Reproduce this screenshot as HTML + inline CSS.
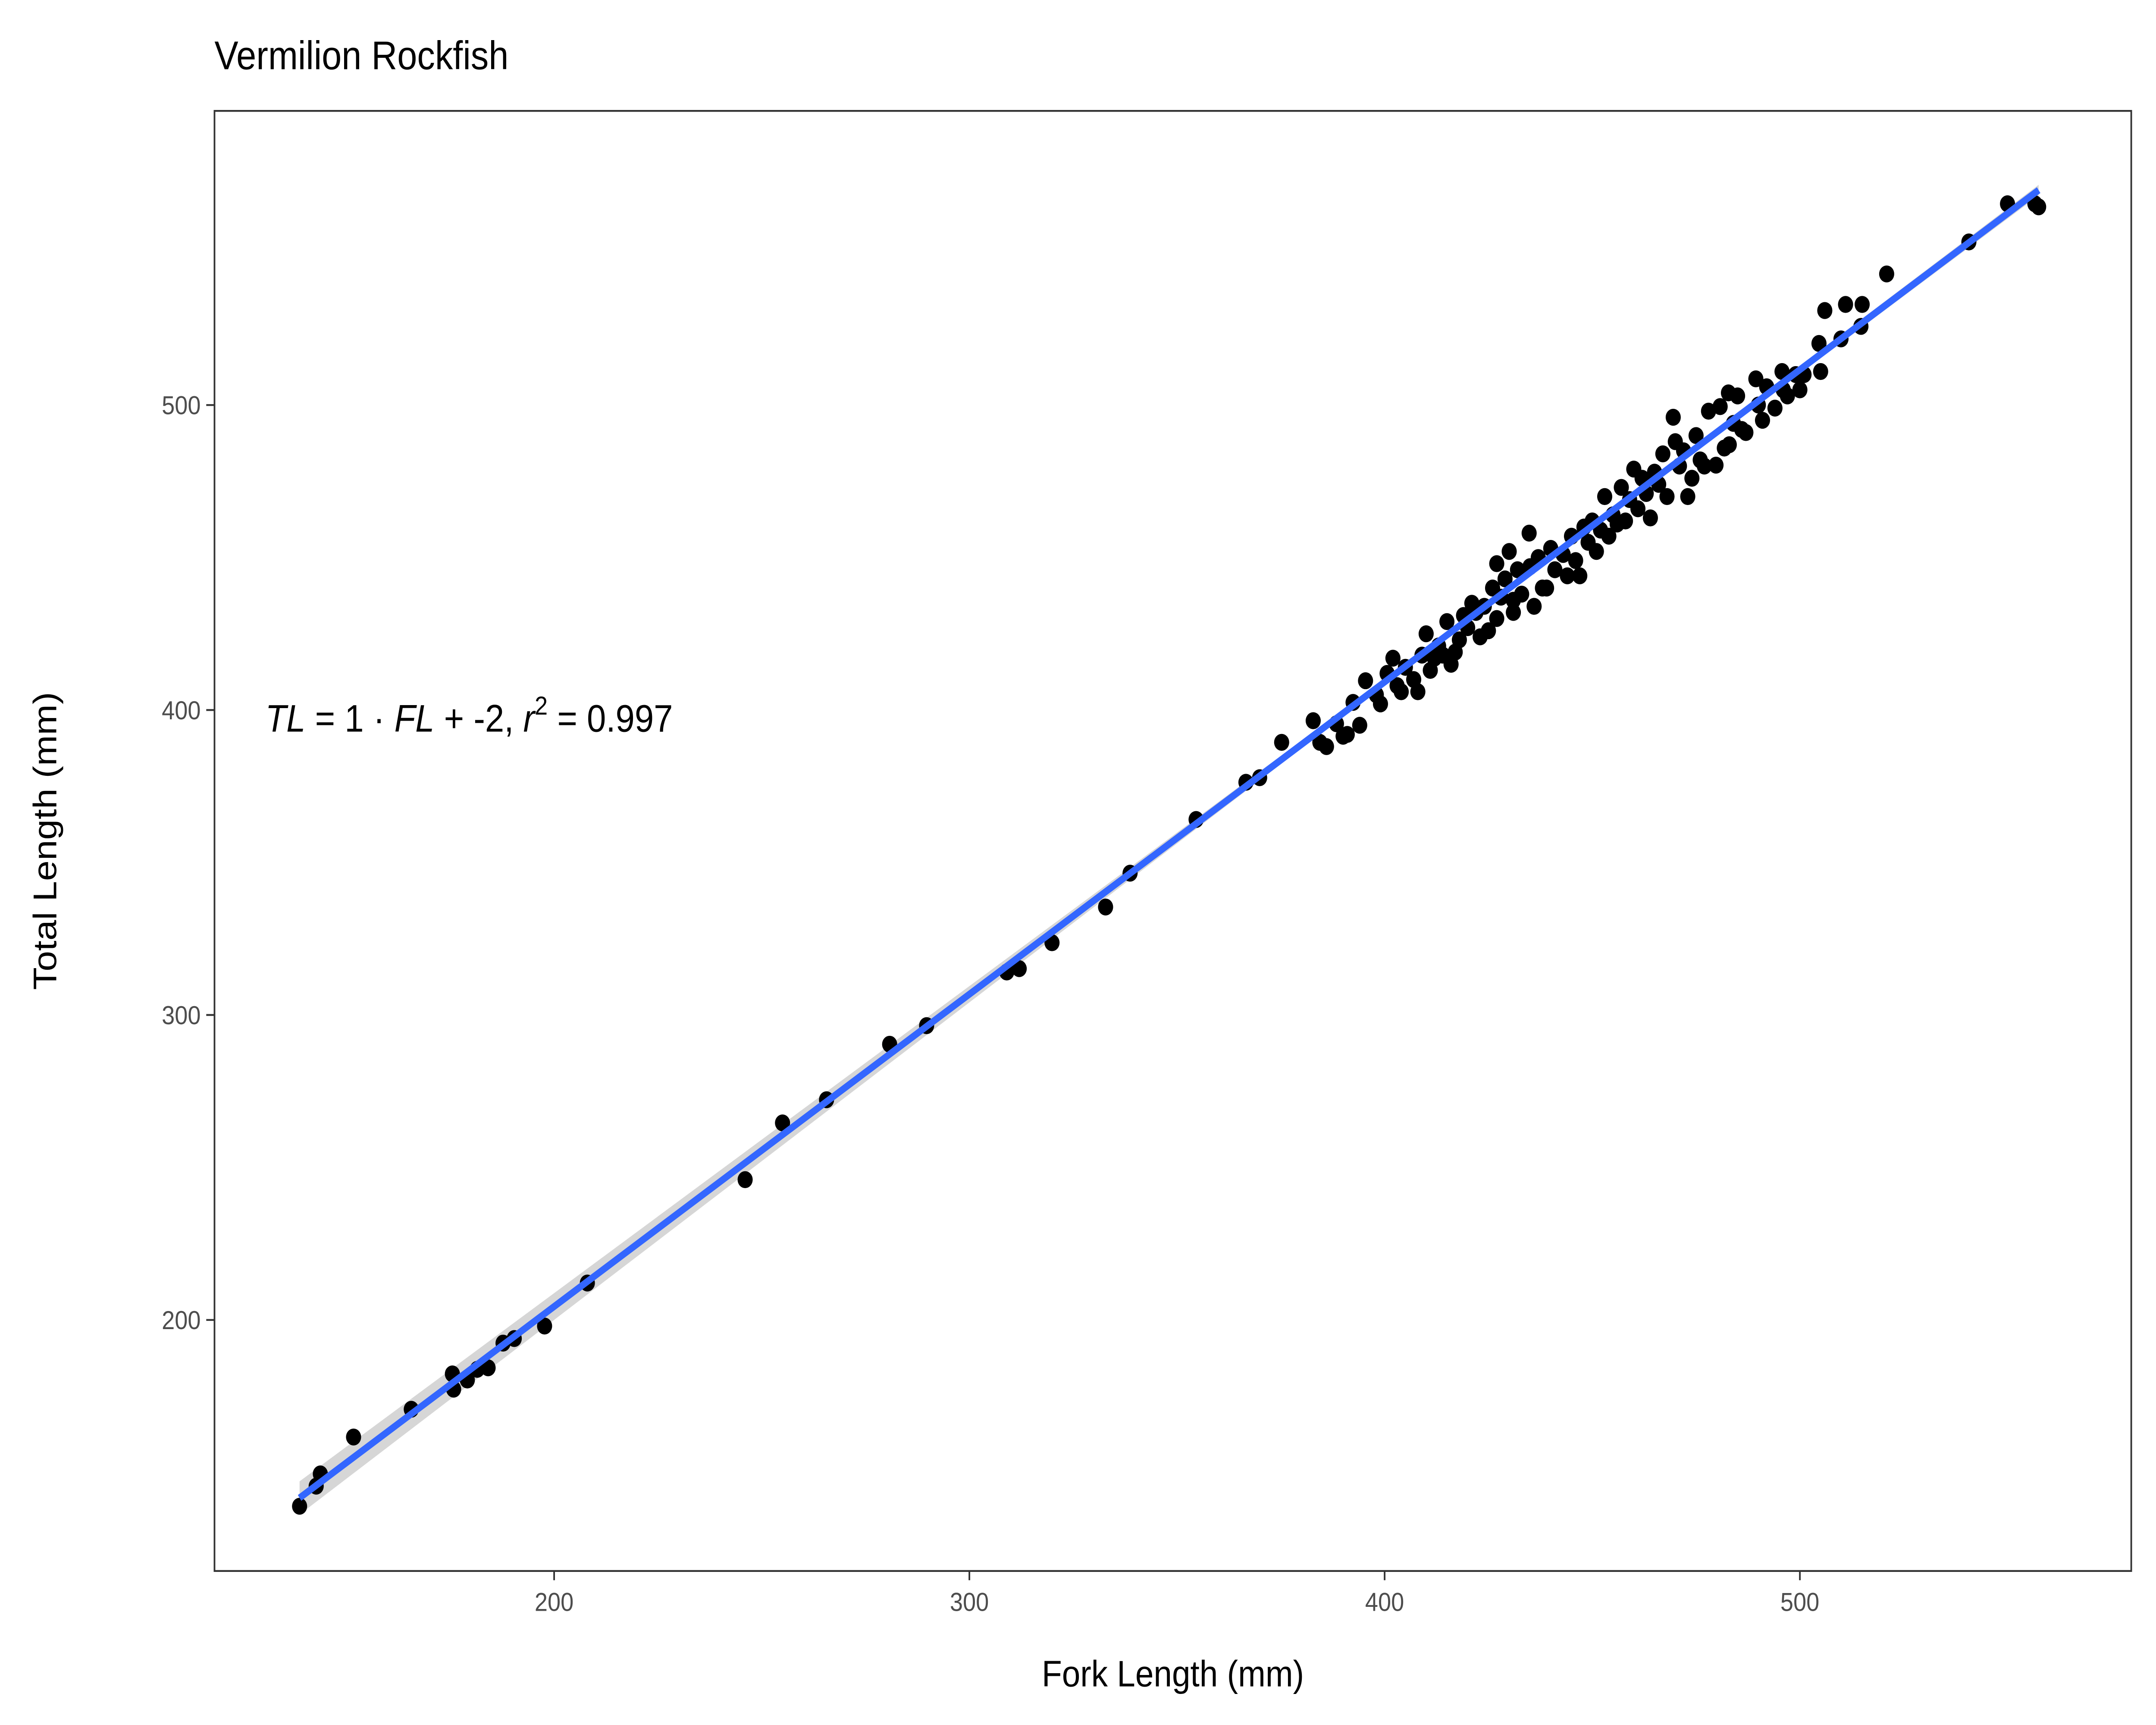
<!DOCTYPE html>
<html><head><meta charset="utf-8"><style>
html,body{margin:0;padding:0;background:#fff;width:100%;height:100%;overflow:hidden}
svg{display:block;width:100vw;height:100vh}
text{font-family:"Liberation Sans",Arial,sans-serif}
</style></head><body>
<svg id="chart" viewBox="0 0 1568 1120" preserveAspectRatio="none" xmlns="http://www.w3.org/2000/svg">
<rect x="0" y="0" width="1568" height="1120" fill="#fff"/>
<text x="156" y="45" font-size="26" fill="#000">Vermilion Rockfish</text>
<rect x="156" y="72" width="1394" height="948" fill="#fff" stroke="#333" stroke-width="1.2"/>
<g id="xticks"></g>
<g id="yticks"></g>
<g id="band"></g>
<g id="pts"></g>
<g id="fit"></g>
<text x="193" y="475" font-size="25" fill="#000"><tspan font-style="italic">TL</tspan> = 1 · <tspan font-style="italic">FL</tspan> + -2,  <tspan font-style="italic">r</tspan><tspan font-size="17" dy="-11">2</tspan><tspan dy="11"> = 0.997</tspan></text>
<text x="853" y="1095" font-size="24" text-anchor="middle" fill="#000">Fork Length (mm)</text>
<text transform="translate(41,546) rotate(-90)" font-size="24" text-anchor="middle" fill="#000">Total Length (mm)</text>
</svg>
<script>
const xTicks=[200,300,400,500];
const yTicks=[200,300,400,500];
const fl=[138.7,142.7,143.7,151.7,165.6,175.5,175.8,179.1,181.5,184.1,187.7,190.4,197.7,208,246,255,265.6,280.8,289.7,309,312,319.9,332.8,338.7,354.6,366.6,369.9,375.2,382.8,384.4,388.4,390,392.4,395.4,
398,400.6,402,404,405,407,409,410,412,413,415,416,418,419,420,421,422,424,425,426,427,428,429,430,431,432,433,434.8,435,437,438,440,441,443,444,445,446,448,449,450,452,453,454,455,457,458,459,460,461,462,463,465,466,467,468,469.5,470,471,472,474,475,476,478,479.8,480.8,481.8,482.8,484,485,487,489.4,490,492,494,495.7,497,499,501,504.6,505,506,509.9,511,514.7,515,520.9,540.7,550,556.6,557.5,
386,391,394,399,403,408,411,414,417,423,427,431,436,439,447,451,456,464,473,477,483,486,491,496,500];
const tl=[138.9,145.5,149.5,161.6,170.7,182.3,177.3,180.3,183.8,184.3,192.4,193.9,198,212.1,246,264.6,272.2,290.4,296.5,314.1,315.2,323.7,335.4,346.5,364.1,376.3,377.8,389.4,396.5,389.4,395.5,391.4,402.5,409.6,
405,412,417,406,414,410,418,425,417,421,429,415,423,431,427,435,432,434,426,440,448,437,443,452,436,446,438,458,447,450,440,453,446,451,444,457,449,460,455,462,459,470,457,464,473,462,469,479,466,476,471,478,474,484,470,496,488,480,485,476,490,482,498,480.3,499.5,485.9,504,494,503,491,508.6,500,506,499,511,503,510,510,520.2,511,531,521.7,533,525.8,533,543,553.5,566,566,565,
388,392,395,402,408,406,413,418,419,424,430,432,434,440,444,452,461,463,470,480,487,492,495,505,505];
const slope=1.024, intercept=-0.4;
const NS='http://www.w3.org/2000/svg';
const x=v=>403+(v-200)*3.02;
const y=v=>263-(v-500)*1.98;
function mk(tag,attrs,parent){const e=document.createElementNS(NS,tag);for(const k in attrs)e.setAttribute(k,attrs[k]);parent.appendChild(e);return e;}
const xg=document.getElementById('xticks'),yg=document.getElementById('yticks');
xTicks.forEach(t=>{
 const l=mk('line',{x1:x(t),x2:x(t),y1:1020,y2:1026,stroke:'#333','stroke-width':1.2},xg);
 
 
 const tx=mk('text',{x:x(t),y:1046,'font-size':17,'text-anchor':'middle',fill:'#4d4d4d'},xg);
 tx.textContent=t;
 
 
});
yTicks.forEach(t=>{
 const l=mk('line',{x1:150,x2:156,y1:y(t),y2:y(t),stroke:'#333','stroke-width':1.2},yg);
 
 
 const tx=mk('text',{x:146,y:y(t)+6,'font-size':17,'text-anchor':'end',fill:'#4d4d4d'},yg);
 tx.textContent=t;
 
 
});
const pg=document.getElementById('pts');
for(let i=0;i<fl.length;i++){
 const c=mk('circle',{cx:x(fl[i]),cy:y(tl[i]),r:5.5,fill:'#000'},pg);
 
 
}
const xmin=Math.min(...fl),xmax=Math.max(...fl);
const bw=v=>0.6+Math.pow((v-420)/140,2)*1.2;
const bp=`M${x(xmin)},${y(slope*xmin+intercept+bw(xmin))} L${x(420)},${y(slope*420+intercept+bw(420))} L${x(xmax)},${y(slope*xmax+intercept+bw(xmax))} L${x(xmax)},${y(slope*xmax+intercept-bw(xmax))} L${x(420)},${y(slope*420+intercept-bw(420))} L${x(xmin)},${y(slope*xmin+intercept-bw(xmin))} Z`;
const band=mk('path',{d:bp,fill:'#999','fill-opacity':0.4},document.getElementById('band'));


const ln=mk('line',{x1:x(xmin),y1:y(slope*xmin+intercept),x2:x(xmax),y2:y(slope*xmax+intercept),stroke:'#3366ff','stroke-width':4.5},document.getElementById('fit'));


</script>
</body></html>
